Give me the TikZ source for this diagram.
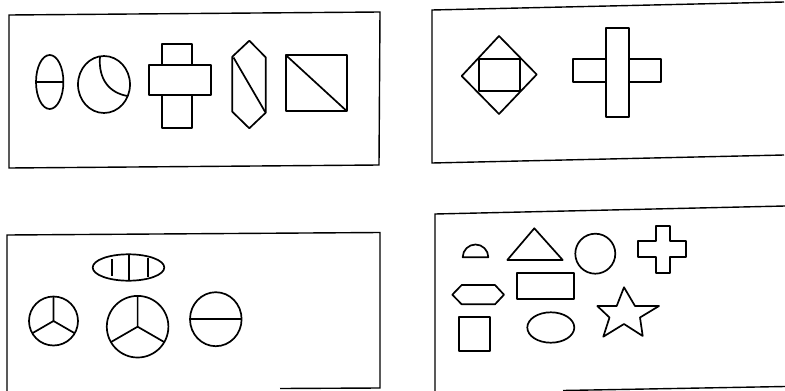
\documentclass[tikz,border=0pt]{standalone}
\usetikzlibrary{shapes.geometric}
\begin{document}
\begin{tikzpicture}[x=1pt,y=-1pt,
  ln/.style={line width=1.7pt,black,line join=round},
  frame/.style={line width=1.4pt,black}]
\useasboundingbox (0,0) rectangle (785,391);
% Panel 1
\draw[frame] (9,15) -- (380,12) -- (379,165) -- (9,168) -- cycle;
\draw[ln] (49.7,82) ellipse [x radius=13.7,y radius=27];
\draw[ln] (36,82) -- (63.4,82);
\draw[ln] (104,84.5) ellipse [x radius=26,y radius=28.5];
\draw[ln] (100,56.2) .. controls (98,80) and (110,93) .. (127.5,96);
\draw[ln,fill=white] (162.3,44) rectangle (191.7,128.3);
\draw[ln,fill=white] (149.3,65) rectangle (210.7,95);
\draw[ln] (249.3,40.7) -- (265.7,57.3) -- (265.7,112.7) -- (249.3,128.3) -- (232.3,111.7) -- (232.3,56.7) -- cycle;
\draw[ln] (233.5,57.5) -- (265.2,112);
\draw[ln] (285.7,55) rectangle (346.7,111);
\draw[ln] (285.7,55) -- (346.7,111);
% Panel 2
\draw[frame] (784,2) -- (432,10) -- (432,163) -- (784,155);
\draw[ln] (499,36) -- (536.7,74.5) -- (499,114) -- (461.7,76) -- cycle;
\draw[ln] (479.3,59.3) rectangle (520,90.7);
\draw[ln,fill=white] (573.3,59.3) rectangle (661,81.7);
\draw[ln,fill=white] (605.7,27.7) rectangle (629,116.7);
% Panel 3
\draw[frame] (7,391) -- (7,235) -- (380,232.5) -- (380,388) -- (280,388.5);
\draw[ln] (128.5,267.5) ellipse [x radius=35.8,y radius=13.2];
\draw[ln] (111.7,259.2) -- (111.7,275.8);
\draw[ln] (129,254.3) -- (129,280.7);
\draw[ln] (148.3,258.2) -- (148.3,276.8);
\draw[ln] (53.5,321) circle [radius=24.5];
\draw[ln] (53.5,321) -- ++(90:-24.5) (53.5,321) -- ++(210:-24.5) (53.5,321) -- ++(330:-24.5);
\draw[ln] (137.6,326.7) circle [radius=30.8];
\draw[ln] (137.6,326.7) -- ++(90:-30.8) (137.6,326.7) -- ++(210:-30.8) (137.6,326.7) -- ++(330:-30.8);
\draw[ln] (215.8,319.2) ellipse [x radius=25.8,y radius=27];
\draw[ln] (190,319.3) -- (241.6,319.3);
% Panel 4
\draw[frame] (785,206) -- (435,214) -- (435,391);
\draw[frame] (563,390.5) -- (785,386.5);
\draw[ln] (462.7,257.3) arc[start angle=180,end angle=360,radius=12.8] -- cycle;
\draw[ln] (507.3,260) -- (562.7,260) -- (534.3,228.3) -- cycle;
\draw[ln] (595.3,253.7) circle [radius=20];
\draw[ln] (656,225.7) -- (670,225.7) -- (670,240.7) -- (685.7,240.7) -- (685.7,257.3) -- (670,257.3) -- (670,272.7) -- (656,272.7) -- (656,257.3) -- (638.3,257.3) -- (638.3,240.7) -- (656,240.7) -- cycle;
\draw[ln] (452.3,294.7) -- (461.7,285) -- (495,285) -- (504,294.7) -- (495,304.3) -- (461.7,304.3) -- cycle;
\draw[ln] (517.3,272.7) rectangle (574.3,299);
\draw[ln] (624,287.3) -- (635,306) -- (659,306) -- (640,317.5) -- (642.7,336) -- (624,324) -- (603.3,336.7) -- (609.5,317.5) -- (597.3,306) -- (616.7,306) -- cycle;
\draw[ln] (459.3,317.3) rectangle (490,351);
\draw[ln] (550.8,327.5) ellipse [x radius=23.5,y radius=15.2];
\end{tikzpicture}
\end{document}
